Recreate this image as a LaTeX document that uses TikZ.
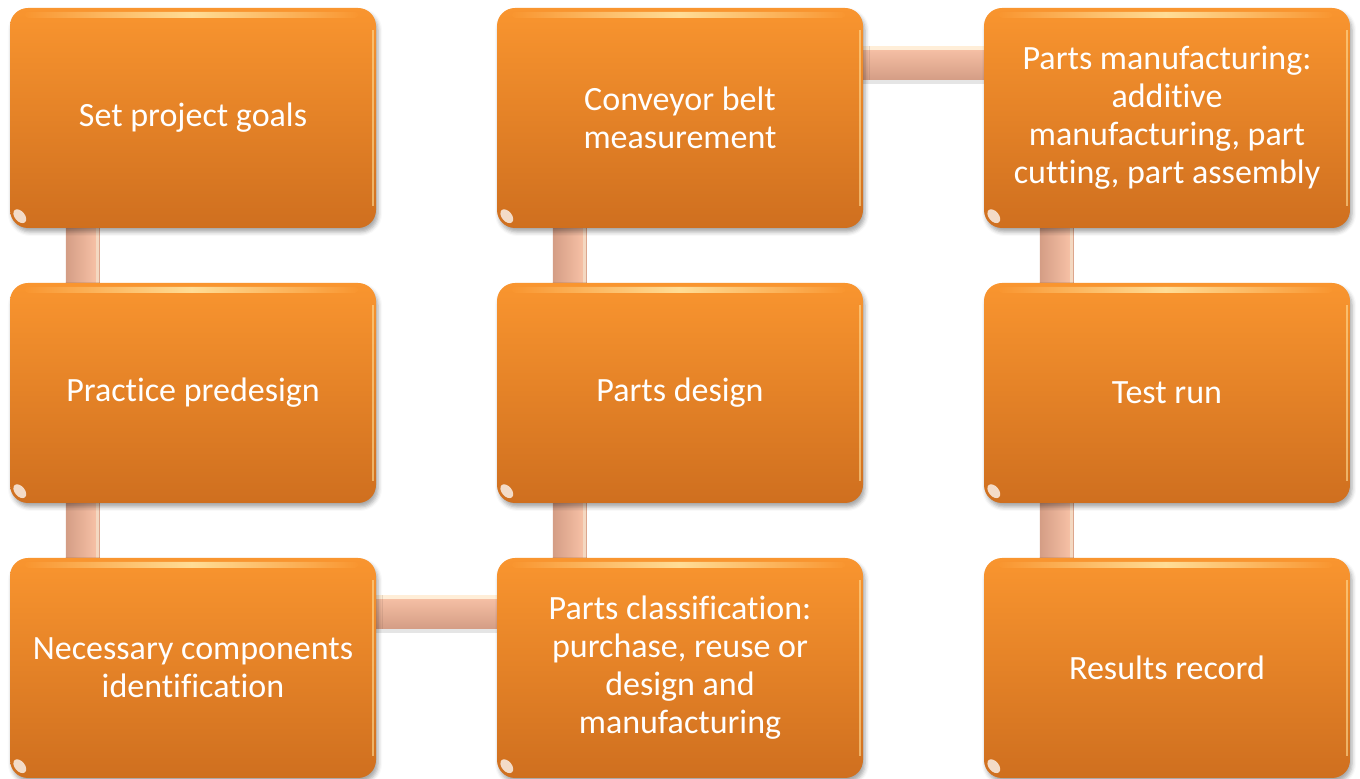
\documentclass[tikz,border=0pt]{standalone}
\usepackage{fontspec}
\setmainfont{Carlito}[Ligatures={NoCommon,NoRequired,NoContextual}]
\usetikzlibrary{calc,shadows.blur}
\pgfdeclarelayer{bg}
\pgfsetlayers{bg,main}

% keeps two letters apart so that no ligature forms
\newcommand{\brk}{\kern0pt}

\definecolor{boxtop}{RGB}{249,149,47}
\definecolor{boxbot}{RGB}{207,111,31}
\definecolor{gloss}{RGB}{255,221,150}
\definecolor{connmid}{RGB}{220,166,141}
\definecolor{connlight}{RGB}{246,192,165}
\definecolor{conndark}{RGB}{212,157,133}
\definecolor{connedge}{RGB}{255,238,216}

\tikzset{
  stepbox/.style={rectangle, rounded corners=18pt, minimum width=366pt,
    minimum height=220pt, inner sep=0pt, top color=boxtop, bottom color=boxbot,
    draw=none, text=white, align=center,
    font=\fontsize{34}{38}\selectfont,
    blur shadow={shadow xshift=2pt, shadow yshift=-4pt,
      shadow blur radius=4pt, shadow opacity=35}},
  vbar/.style={line width=34pt, draw=connmid},
  hbar/.style={line width=34pt, draw=connmid},
}

% glossy accents of one step box
\newcommand{\glossbox}[1]{%
  \shade[left color=boxtop, right color=boxtop, middle color=gloss, rounded corners=3pt]
    ($(#1.north west)+(15,-4)$) rectangle ($(#1.north east)+(-18,-10)$);
  \draw[line width=2pt, gloss, opacity=0.6]
    ($(#1.north east)+(-3,-22)$) -- ($(#1.south east)+(-3,22)$);
  \fill[white, opacity=0.75] ($(#1.south west)+(10,12)$)
    ellipse [x radius=5pt, y radius=8pt, rotate=40];
}

\begin{document}
\begin{tikzpicture}[x=1pt,y=1pt]
\useasboundingbox (0,0) rectangle (1360,779);

% steps
\node[stepbox] (goals)     at (193,661)  {Set project goals};
\node[stepbox] (predesign) at (193,386)  {Practice predesign};
\node[stepbox] (ident)     at (193,111)  {Necessary components\\ident\brk if\brk icat\brk ion};
\node[stepbox] (classif)   at (680,111)  {Parts classif\brk icat\brk ion:\\purchase, reuse or\\design and\\manufacturing};
\node[stepbox] (design)    at (680,386)  {Parts design};
\node[stepbox] (conveyor)  at (680,661)  {Conveyor belt\\measurement};
\node[stepbox] (manuf)     at (1167,661) {Parts manufacturing:\\addit\brk ive\\manufacturing, part\\cut\brk t\brk ing, part assembly};
\node[stepbox] (test)      at (1167,386) {Test run};
\node[stepbox] (results)   at (1167,111) {Results record};

\foreach \n in {goals,predesign,ident,classif,design,conveyor,manuf,test,results}
  {\glossbox{\n}}

% connecting bars behind the boxes
\begin{pgfonlayer}{bg}
  % vertical bars
  \foreach \a/\b in {goals/predesign, predesign/ident, classif/design,
                     design/conveyor, manuf/test, test/results} {
    \draw[vbar] ($(\a.south west)+(73,10)$) -- ($(\b.north west)+(73,-10)$);
    \shade[left color=conndark, right color=connlight]
      ($(\a.south west)+(56,10)$) rectangle ($(\b.north west)+(86,-10)$);
    \fill[connedge, opacity=0.7]
      ($(\a.south west)+(86,10)$) rectangle ($(\b.north west)+(89,-10)$);
    \fill[connmid]
      ($(\a.south west)+(89,10)$) rectangle ($(\b.north west)+(90,-10)$);
  }
  % horizontal bars
  \foreach \a/\b/\d in {ident/classif/54, conveyor/manuf/55} {
    \fill[black, opacity=0.10]
      ($(\a.north east)+(-10,-\d-17)$) rectangle ($(\b.north west)+(10,-\d-21)$);
    \draw[hbar] ($(\a.north east)+(-10,-\d)$) -- ($(\b.north west)+(10,-\d)$);
    \shade[top color=connlight, bottom color=conndark]
      ($(\a.north east)+(-10,-\d+14)$) rectangle ($(\b.north west)+(10,-\d-17)$);
    \fill[connedge]
      ($(\a.north east)+(-10,-\d+17)$) rectangle ($(\b.north west)+(10,-\d+13)$);
  }
\end{pgfonlayer}
\end{tikzpicture}
\end{document}
